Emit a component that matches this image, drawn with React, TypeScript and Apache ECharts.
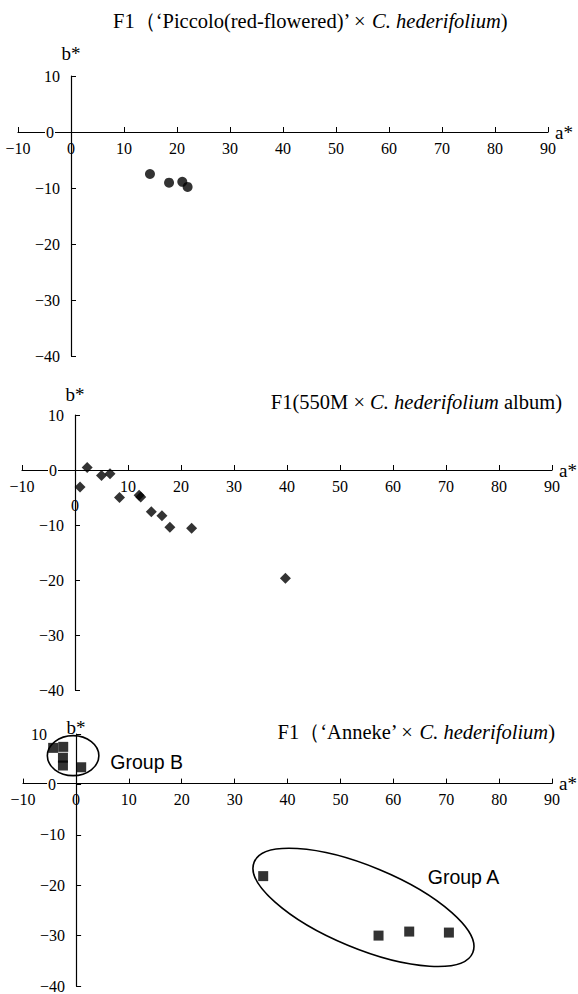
import React, { useEffect, useRef } from 'react';
import * as echarts from 'echarts';

// ---- data (a*, b*) ----
const piccoloA = [14.9, 18.5, 21.0, 22.0];
const piccoloB = [-7.5, -9.05, -8.9, -9.8];

const albumA = [0.95, 2.3, 5.0, 6.6, 8.4, 12.1, 12.4, 14.4, 16.4, 17.9, 22.0, 39.7];
const albumB = [-3.1, 0.47, -1.0, -0.7, -5.0, -4.6, -4.9, -7.6, -8.3, -10.4, -10.6, -19.7];

const annekeA = [35.4, 57.2, 63.0, 70.5, -4.3, -2.4, -2.45, -2.45, 1.0];
const annekeB = [-18.2, -30.0, -29.2, -29.4, 7.25, 7.45, 5.3, 3.75, 3.4];

// group annotations: major-axis endpoints [a1, b1, a2, b2]
const groupEllipseAxes = [
  [33.7, -15.4, 75.0, -33.4],
  [-5.4, 5.7, 4.34, 5.7],
];
const groupNames = ['Group A', 'Group B'];
const groupLabelAt = [
  [66.5, -18.4],
  [6.5, 4.5],
];

const titlesMain = ['F1（‘Piccolo(red-flowered)’ × ', 'F1(550M × ', 'F1（‘Anneke’ × '];
const titlesItalic = ['C. hederifolium', 'C. hederifolium', 'C. hederifolium'];
const titlesTail = [')', ' album)', ')'];

const xMin = -10, xMax = 90, xStep = 10;
const yMin = -40, yMax = 10, yStep = 10;

// ---- layout / style ----
const SERIF = "Liberation Serif";
const SANS = "Liberation Sans";
const grids = [
  { left: 18, top: 76, width: 530, height: 280 },
  { left: 22, top: 415, width: 530, height: 275 },
  { left: 23, top: 734, width: 531, height: 253 },
];
const bNameGap = [13, 11, -3];
const yZeroSpacer = [5, 6, 8];
const yTenSpacer = [0, 0, 18];
const ellipseMinorPx = [41, 20];
const TITLE_SIZE = 20.5;

const fmtNum = (v: number) => (v < 0 ? '\u2212' + Math.abs(v) : String(v));

// offset that moves an edge axis onto the other axis' zero line
const xOffset = (i: number) => -grids[i].height * (0 - yMin) / (yMax - yMin);
const yOffset = (i: number) => -grids[i].width * (0 - xMin) / (xMax - xMin);

const lab = { fontFamily: SERIF, fontSize: 16, color: '#000', fontWeight: 'normal' };

function makeX(i: number) {
  return {
    gridIndex: i,
    type: 'value',
    position: 'bottom',
    offset: xOffset(i),
    min: xMin,
    max: xMax,
    interval: xStep,
    name: 'a*',
    nameLocation: 'end',
    nameGap: 7,
    nameMoveOverlap: false,
    nameTextStyle: { fontFamily: SERIF, fontSize: 19, color: '#000', verticalAlign: 'middle', padding: [0, 0, 6, 0] },
    axisLine: { onZero: false, lineStyle: { color: '#000', width: 1.2 } },
    axisTick: { show: true, inside: true, length: 5, lineStyle: { color: '#000', width: 1 } },
    axisLabel: {
      margin: 8,
      ...lab,
      formatter: (v: number) => (i === 1 && v === 0 ? '{low|0}' : `{n|${fmtNum(v)}}`),
      rich: { n: { ...lab }, low: { ...lab, padding: [19, 0, 0, 0] } },
    },
    splitLine: { show: false },
    z: 2,
  };
}

function makeY(i: number) {
  return {
    gridIndex: i,
    type: 'value',
    position: 'left',
    offset: yOffset(i),
    min: yMin,
    max: yMax,
    interval: yStep,
    name: 'b*',
    nameLocation: 'end',
    nameGap: bNameGap[i],
    nameMoveOverlap: false,
    nameTextStyle: { fontFamily: SERIF, fontSize: 19, color: '#000' },
    axisLine: { onZero: false, lineStyle: { color: '#000', width: 1.2 } },
    axisTick: { show: true, inside: true, length: 5, lineStyle: { color: '#000', width: 1 } },
    axisLabel: {
      margin: 11,
      ...lab,
      formatter: (v: number) => {
        if (v === 0) return '{z|0}{sz|\u00a0}';
        if (v === 10 && yTenSpacer[i] > 0) return '{n|10}{st|\u00a0}';
        return `{n|${fmtNum(v)}}`;
      },
      rich: {
        z: { ...lab, backgroundColor: '#fff', padding: [0, 1, 0, 1] },
        sz: { fontSize: 4, width: yZeroSpacer[i] },
        n: { ...lab },
        st: { fontSize: 4, width: yTenSpacer[i] },
      },
    },
    splitLine: { show: false },
    z: 3,
  };
}

const zip = (a: number[], b: number[]) => a.map((v, k) => [v, b[k]]);

export default function App() {
  const ref = useRef<HTMLDivElement>(null);
  useEffect(() => {
    if (!ref.current) return;
    const chart = echarts.init(ref.current, null, { renderer: 'svg' });
    const titleRich = {
      n: { fontFamily: SERIF, fontSize: TITLE_SIZE, color: '#000', fontWeight: 'normal' },
      i: { fontFamily: SERIF, fontSize: TITLE_SIZE, color: '#000', fontStyle: 'italic', fontWeight: 'normal' },
    };
    const mkTitle = (k: number) => `{n|${titlesMain[k]}}{i|${titlesItalic[k]}}{n|${titlesTail[k]}}`;
    const tStyle = { fontWeight: 'normal', fontFamily: SERIF, fontSize: TITLE_SIZE, color: '#000', rich: titleRich };
    const option: any = {
      animation: false,
      backgroundColor: '#fff',
      title: [
        { text: mkTitle(0), left: 113, top: 10, padding: 0, textStyle: tStyle },
        { text: mkTitle(1), right: 16, top: 391, padding: 0, textStyle: tStyle },
        { text: mkTitle(2), right: 23, top: 721, padding: 0, textStyle: tStyle },
      ],
      grid: grids.map((g) => ({ ...g, containLabel: false })),
      xAxis: [makeX(0), makeX(1), makeX(2)],
      yAxis: [makeY(0), makeY(1), makeY(2)],
      series: [
        {
          type: 'scatter',
          xAxisIndex: 0,
          yAxisIndex: 0,
          symbol: 'circle',
          symbolSize: 10,
          itemStyle: { color: '#000' },
          data: zip(piccoloA, piccoloB),
          z: 5,
        },
        {
          type: 'scatter',
          xAxisIndex: 1,
          yAxisIndex: 1,
          symbol: 'diamond',
          symbolSize: 11,
          itemStyle: { color: '#000' },
          data: zip(albumA, albumB),
          z: 5,
        },
        {
          type: 'scatter',
          xAxisIndex: 2,
          yAxisIndex: 2,
          symbol: 'rect',
          symbolSize: 10,
          itemStyle: { color: '#000' },
          data: zip(annekeA, annekeB),
          z: 5,
        },
        {
          type: 'custom',
          xAxisIndex: 2,
          yAxisIndex: 2,
          clip: false,
          z: 6,
          data: groupEllipseAxes,
          renderItem: (params: any, api: any) => {
            const p1 = api.coord([api.value(0), api.value(1)]);
            const p2 = api.coord([api.value(2), api.value(3)]);
            const cx = (p1[0] + p2[0]) / 2;
            const cy = (p1[1] + p2[1]) / 2;
            const a = Math.hypot(p2[0] - p1[0], p2[1] - p1[1]) / 2;
            const ang = Math.atan2(p2[1] - p1[1], p2[0] - p1[0]);
            return {
              type: 'ellipse',
              x: cx,
              y: cy,
              rotation: -ang,
              shape: { cx: 0, cy: 0, rx: a, ry: ellipseMinorPx[params.dataIndex] },
              style: { fill: 'none', stroke: '#000', lineWidth: 1.6 },
            };
          },
        },
        {
          type: 'custom',
          xAxisIndex: 2,
          yAxisIndex: 2,
          clip: false,
          z: 6,
          data: groupLabelAt,
          renderItem: (params: any, api: any) => {
            const p = api.coord([api.value(0), api.value(1)]);
            return {
              type: 'text',
              x: p[0],
              y: p[1],
              style: {
                text: groupNames[params.dataIndex],
                fontFamily: SANS,
                fontSize: 19.5,
                fill: '#000',
                align: 'left',
                verticalAlign: 'middle',
              },
            };
          },
        },
      ],
    };
    chart.setOption(option);
    return () => chart.dispose();
  }, []);
  return <div ref={ref} style={{ position: 'absolute', left: 0, top: 0, width: 578, height: 994 }} />;
}
